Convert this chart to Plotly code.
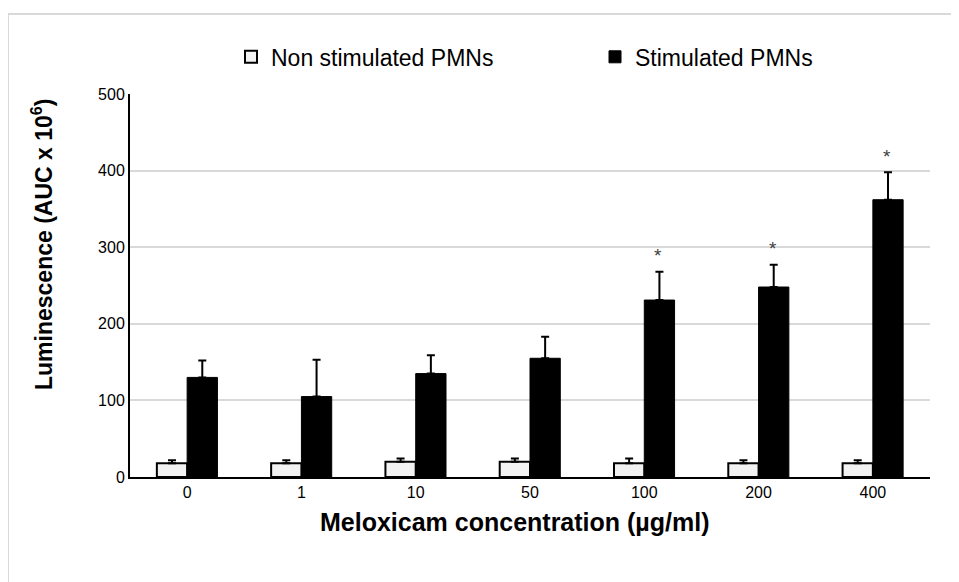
import plotly.graph_objects as go

categories = ["0", "1", "10", "50", "100", "200", "400"]
non_stim = [18, 18, 20, 20, 18, 18, 18]
non_stim_err = [4, 4, 4, 4, 6, 4, 4]
stim = [130, 105, 135, 155, 231, 248, 362]
stim_err = [22, 48, 24, 28, 37, 29, 36]
signif = ["", "", "", "", "*", "*", "*"]

fig = go.Figure()
fig.add_trace(go.Bar(
    x=categories, y=non_stim, name="Non stimulated PMNs", legend="legend",
    marker=dict(color="#f2f2f2", line=dict(color="black", width=2)),
    error_y=dict(type="data", array=non_stim_err, arrayminus=[0]*7, symmetric=False,
                 color="black", thickness=2, width=4),
))
fig.add_trace(go.Bar(
    x=categories, y=stim, name="Stimulated PMNs", legend="legend2",
    marker=dict(color="black", line=dict(color="black", width=1)),
    error_y=dict(type="data", array=stim_err, arrayminus=[0]*7, symmetric=False,
                 color="black", thickness=2, width=4),
))

for i, c in enumerate(categories):
    if signif[i]:
        fig.add_annotation(x=i, y=stim[i] + stim_err[i], text=signif[i], showarrow=False,
                           xshift=14, yshift=16, font=dict(size=19, color="#404040"))

# axis titles placed as annotations (paper coords)
fig.add_annotation(xref="paper", yref="paper", x=(514 - 130) / 800, y=(477 - 522) / 383,
                   text="<b>Meloxicam concentration (µg/ml)</b>", showarrow=False,
                   font=dict(size=25), xanchor="center", yanchor="middle")
fig.add_annotation(xref="paper", yref="paper", x=(42 - 130) / 800, y=(477 - 245) / 383,
                   text="<b>Luminescence (AUC x 10<sup>6</sup>)</b>", showarrow=False,
                   textangle=-90, font=dict(size=23), xanchor="center", yanchor="middle")

# outer frame (top and left edges only, as in the reference crop)
bx0 = (8 - 130) / 800
by1 = (477 - 14) / 383
fig.add_shape(type="line", xref="paper", yref="paper", x0=bx0, y0=by1, x1=1.1, y1=by1,
              line=dict(color="#d9d9d9", width=2), layer="below")
fig.add_shape(type="line", xref="paper", yref="paper", x0=bx0, y0=by1, x1=bx0, y1=-0.35,
              line=dict(color="#d9d9d9", width=2), layer="below")

legend_common = dict(orientation="h", yanchor="middle", y=1.097, bgcolor="rgba(0,0,0,0)",
                     font=dict(size=23), itemwidth=30, xanchor="left")

fig.update_layout(
    width=951, height=574,
    margin=dict(l=122, r=29, t=86, b=105, autoexpand=False),
    paper_bgcolor="white", plot_bgcolor="white",
    barmode="group", bargap=0.47, bargroupgap=0,
    font=dict(family="Liberation Sans, Arial, sans-serif", color="black"),
    showlegend=True,
    legend=dict(x=(231 - 130) / 800, **legend_common),
    legend2=dict(x=(595 - 130) / 800, **legend_common),
    xaxis=dict(type="category", range=[-0.5, 6.5], showline=True, linecolor="black",
               linewidth=2, ticks="", tickfont=dict(size=16), automargin=False),
    yaxis=dict(range=[0, 500], dtick=100, showline=True, linecolor="black", linewidth=2,
               showgrid=True, gridcolor="#d9d9d9", gridwidth=2, ticks="", zeroline=False,
               tickfont=dict(size=16), automargin=False),
)

fig.write_html("out.html")
